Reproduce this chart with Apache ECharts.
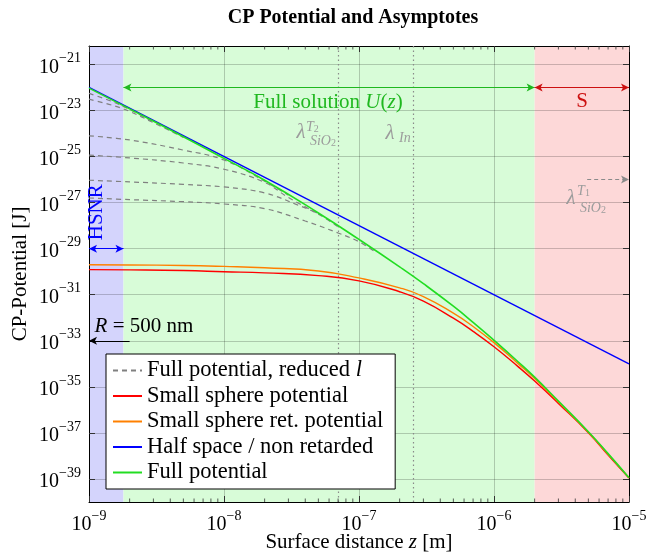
<!DOCTYPE html>
<html>
<head>
<meta charset="utf-8">
<script src="https://cdn.jsdelivr.net/npm/echarts@6/dist/echarts.min.js"></script>
<style>
  html, body { margin: 0; padding: 0; background: #fff; }
  #chart { width: 649px; height: 554px; }
</style>
</head>
<body>
<div id="chart"></div>
<script>
// distances z [m] where the curves were read
const zGrid = [1e-9, 2e-9, 5e-9, 1e-8, 2e-8, 5e-8, 1e-7, 2e-7, 3e-7, 5e-7, 7e-7,
               1e-6, 1.5e-6, 2e-6, 3e-6, 5e-6, 7e-6, 1e-5];
// log10 of the potential [J]
const fullPot = [-22.03, -22.93, -24.14, -25.08, -26.03, -27.45, -28.6, -29.79, -30.52, -31.5, -32.2,
                 -32.98, -33.9, -34.58, -35.62, -36.95, -37.9, -38.95];
const smallSphere = [-29.91, -29.92, -29.95, -30.0, -30.05, -30.17, -30.4, -30.87, -31.28, -32.02, -32.59,
                     -33.26, -34.11, -34.75, -35.72, -36.99, -37.96, -38.96];
const smallSphereRet = [-29.7, -29.71, -29.73, -29.77, -29.83, -29.97, -30.27, -30.7, -31.08, -31.8, -32.38,
                        -33.08, -33.98, -34.64, -35.66, -36.97, -37.93, -38.95];
// half space, non retarded (straight line, read at both ends)
const halfSpaceZ = [1e-9, 1e-5];
const halfSpace = [-22.0, -34.0];
// full potential with reduced l
const reducedZ = [
  [1e-9, 1.5e-9, 2e-9, 3e-9],
  [1e-9, 1.5e-9, 2e-9, 3e-9, 5e-9],
  [1e-9, 2e-9, 5e-9, 1e-8, 2e-8, 3e-8],
  [1e-9, 2e-9, 5e-9, 1e-8, 2e-8, 3e-8, 5e-8],
  [1e-9, 2e-9, 5e-9, 1e-8, 2e-8, 3.5e-8, 5e-8, 7e-8],
  [1e-9, 2e-9, 5e-9, 1e-8, 2e-8, 4e-8, 7e-8, 1e-7, 1.3e-7]
];
const reducedPot = [
  [-22.26, -22.62, -22.96, -23.49],
  [-22.51, -22.78, -23.04, -23.53, -24.17],
  [-24.1, -24.28, -24.72, -25.15, -26.07, -26.68],
  [-24.94, -25.06, -25.28, -25.55, -26.12, -26.78, -27.48],
  [-26.03, -26.1, -26.21, -26.32, -26.58, -27.1, -27.5, -28.05],
  [-26.8, -26.87, -26.96, -27.06, -27.26, -27.8, -28.32, -28.7, -29.12]
];

const xTickExp = [-9, -8, -7, -6, -5];
const yTickExp = [-39, -37, -35, -33, -31, -29, -27, -25, -23, -21];
const minorMult = [2, 3, 4, 5, 6, 7, 8, 9];
const regionEdges = [1e-9, 1.8e-9, 2e-6, 1e-5]; // HSNR | full solution | S
const lambdaZ = [7e-8, 2.5e-7];

const FONT = '"Liberation Serif", "DejaVu Serif", serif';
const REDUCED = 'Full potential, reduced l';
const lg = Math.log10;

function toPts(zs, us) {
  return zs.map((z, i) => [lg(z), us[i]]);
}

const minorX = [];
xTickExp.slice(0, -1).forEach(d => minorMult.forEach(m => minorX.push([lg(m) + d, -30])));

const tickLabel = {
  formatter: v => '{b|10}{s|\u2212' + Math.abs(v) + '}',
  rich: {
    b: { fontSize: 20, fontFamily: FONT, color: '#000', lineHeight: 26, verticalAlign: 'bottom' },
    s: { fontSize: 14, fontFamily: FONT, color: '#000', lineHeight: 15, verticalAlign: 'top' }
  }
};

const axisCommon = {
  type: 'value', z: 0,
  axisLine: { show: true, onZero: false, lineStyle: { color: '#000', width: 1 } },
  axisTick: { show: true, inside: true, length: 6, lineStyle: { color: '#333' } }
};

function txt(x, y, formatter, rich, rotate) {
  return {
    coord: [x, y],
    label: { show: true, position: 'inside', formatter: formatter, rich: rich, rotate: rotate || 0 }
  };
}

const GRAY = '#9c9c9c';
const lamRich = {
  l: { fontSize: 21, fontFamily: FONT, fontStyle: 'italic', color: GRAY },
  i: { fontSize: 14, fontFamily: FONT, fontStyle: 'italic', color: GRAY },
  d: { fontSize: 10, fontFamily: FONT, color: GRAY, verticalAlign: 'bottom', lineHeight: 11 }
};

const series = [];

// background regions
series.push({
  type: 'line', name: 'bg', data: [], silent: true,
  markArea: {
    silent: true, z: -1,
    data: [
      [{ xAxis: lg(regionEdges[0]), itemStyle: { color: '#d4d4fc' } }, { xAxis: lg(regionEdges[1]) }],
      [{ xAxis: lg(regionEdges[1]), itemStyle: { color: '#d8fcd8' } }, { xAxis: lg(regionEdges[2]) }],
      [{ xAxis: lg(regionEdges[2]), itemStyle: { color: '#fdd8d8' } }, { xAxis: lg(regionEdges[3]) }]
    ]
  }
});

// dotted wavelength markers
series.push({
  type: 'line', name: 'lam', data: [], silent: true,
  markLine: {
    silent: true, z: 1, symbol: 'none', label: { show: false },
    lineStyle: { color: '#8a8a8a', type: [1.5, 3], width: 1.2 },
    data: lambdaZ.map(z => ({ xAxis: lg(z) }))
  }
});

reducedZ.forEach((zs, k) => {
  series.push({
    type: 'line', name: REDUCED, data: toPts(zs, reducedPot[k]), symbol: 'none', smooth: 0.4,
    lineStyle: { color: '#808080', width: 1.2, type: [5, 4] }, itemStyle: { color: '#808080' }, z: 2
  });
});

[
  ['Small sphere potential', smallSphere, '#ff0000'],
  ['Small sphere ret. potential', smallSphereRet, '#ff8000']
].forEach(([name, vals, col]) => {
  series.push({
    type: 'line', name: name, data: toPts(zGrid, vals), symbol: 'none', smooth: 0.5,
    lineStyle: { color: col, width: 1.4 }, itemStyle: { color: col }, z: 3
  });
});

series.push({
  type: 'line', name: 'Half space / non retarded', data: toPts(halfSpaceZ, halfSpace), symbol: 'none',
  lineStyle: { color: '#0000ff', width: 1.4 }, itemStyle: { color: '#0000ff' }, z: 3
});

series.push({
  type: 'line', name: 'Full potential', data: toPts(zGrid, fullPot), symbol: 'none', smooth: 0.5,
  lineStyle: { color: '#22dd22', width: 1.6 }, itemStyle: { color: '#22dd22' }, z: 4
});

// arrows and annotation texts
series.push({
  type: 'line', name: 'annot', data: [], z: 5, silent: true,
  markLine: {
    silent: true, symbol: ['arrow', 'arrow'], symbolSize: [6, 8], label: { show: false },
    data: [
      [{ coord: [lg(regionEdges[1]), -22.0], lineStyle: { color: '#1fb81f', width: 1.2, type: 'solid' } },
       { coord: [lg(regionEdges[2]), -22.0] }],
      [{ coord: [lg(regionEdges[2]), -22.0], lineStyle: { color: '#cc1111', width: 1.2, type: 'solid' } },
       { coord: [lg(regionEdges[3]), -22.0] }],
      [{ coord: [lg(regionEdges[0]), -29.0], lineStyle: { color: '#0000ff', width: 1.2, type: 'solid' } },
       { coord: [lg(regionEdges[1]), -29.0] }],
      [{ coord: [lg(2.0e-9), -33.0], symbol: 'none', lineStyle: { color: '#000', width: 1.2, type: 'solid' } },
       { coord: [lg(1e-9), -33.0], symbol: 'arrow' }],
      [{ coord: [lg(4.9e-6), -26.0], symbol: 'none', lineStyle: { color: '#8a8a8a', width: 1, type: [4, 3] } },
       { coord: [lg(1e-5), -26.0], symbol: 'arrow' }]
    ]
  },
  markPoint: {
    silent: true, symbol: 'circle', symbolSize: 1, itemStyle: { color: 'rgba(0,0,0,0)' },
    data: [
      txt(-7.23, -22.66, '{g|Full solution }{gi|U}{g|(}{gi|z}{g|)}', {
        g: { fontSize: 21, fontFamily: FONT, color: '#1fb81f' },
        gi: { fontSize: 21, fontFamily: FONT, fontStyle: 'italic', color: '#1fb81f' }
      }),
      txt(-5.348, -22.62, '{r|S}', { r: { fontSize: 21, fontFamily: FONT, color: '#cc1111' } }),
      txt(-8.941, -27.42, '{h|HSNR}', { h: { fontSize: 21, fontFamily: FONT, color: '#0000ff' } }, 90),
      txt(-8.593, -32.4, '{i|R}{n| = 500 nm}', {
        i: { fontSize: 21, fontFamily: FONT, fontStyle: 'italic', color: '#000' },
        n: { fontSize: 21, fontFamily: FONT, color: '#000' }
      }),
      txt(-7.43, -23.94, '{l|λ}', lamRich),
      txt(-7.345, -23.74, '{i|T}{d|2}', lamRich),
      txt(-7.267, -24.33, '{i|SiO}{d|2}', lamRich),
      txt(-6.77, -23.99, '{l|λ}', lamRich),
      txt(-6.66, -24.2, '{i|In}', lamRich),
      txt(-5.43, -26.81, '{l|λ}', lamRich),
      txt(-5.337, -26.52, '{i|T}{d|1}', lamRich),
      txt(-5.267, -27.24, '{i|SiO}{d|2}', lamRich)
    ]
  }
});

// minor ticks on the log x axis (top and bottom)
series.push({
  type: 'custom', name: 'minor', data: minorX, silent: true, z: 6,
  renderItem: (params, api) => {
    const x = api.coord([api.value(0), api.value(1)])[0];
    const cs = params.coordSys;
    const st = { stroke: '#333', lineWidth: 0.8 };
    return {
      type: 'group', children: [
        { type: 'line', shape: { x1: x, y1: cs.y + cs.height, x2: x, y2: cs.y + cs.height - 3.5 }, style: st },
        { type: 'line', shape: { x1: x, y1: cs.y, x2: x, y2: cs.y + 3.5 }, style: st }
      ]
    };
  }
});

const chart = echarts.init(document.getElementById('chart'));
chart.setOption({
  animation: false,
  backgroundColor: '#fff',
  title: {
    text: 'CP Potential and Asymptotes',
    left: 353, top: 8, padding: 0, textAlign: 'center',
    textStyle: { fontFamily: FONT, fontSize: 20, fontWeight: 'bold', color: '#000' }
  },
  grid: { left: 89, top: 46, right: 20, bottom: 52, outerBoundsMode: 'none', containLabel: false },
  legend: {
    orient: 'vertical', left: 106, top: 354,
    data: [REDUCED, 'Small sphere potential', 'Small sphere ret. potential', 'Half space / non retarded', 'Full potential'],
    backgroundColor: '#fff', borderColor: '#000', borderWidth: 1, borderRadius: 0,
    padding: [5, 12, 5, 6], itemWidth: 29, itemHeight: 14, itemGap: 2.5,
    itemStyle: { opacity: 0 },
    formatter: name => name === REDUCED ? 'Full potential, reduced {i|l}' : name,
    textStyle: {
      fontFamily: FONT, fontSize: 22.5, color: '#000', lineHeight: 20,
      rich: { i: { fontFamily: FONT, fontSize: 22.5, fontStyle: 'italic', color: '#000', lineHeight: 20 } }
    }
  },
  xAxis: [
    Object.assign({}, axisCommon, {
      min: -9, max: -5, interval: 1, position: 'bottom',
      name: 'Surface distance {i|z} [m]', nameLocation: 'middle', nameGap: 30, nameMoveOverlap: false,
      nameTextStyle: {
        fontFamily: FONT, fontSize: 21, color: '#000',
        rich: { i: { fontFamily: FONT, fontSize: 21, fontStyle: 'italic', color: '#000' } }
      },
      axisLabel: Object.assign({ margin: 7 }, tickLabel),
      splitLine: { show: true, lineStyle: { color: 'rgba(0,0,0,0.2)', width: 1 } }
    }),
    Object.assign({}, axisCommon, {
      min: -9, max: -5, interval: 1, position: 'top',
      axisLabel: { show: false }, splitLine: { show: false }
    })
  ],
  yAxis: [
    Object.assign({}, axisCommon, {
      min: -40, max: -20.2, interval: 1, position: 'left',
      name: 'CP-Potential [J]', nameLocation: 'middle', nameGap: 58, nameMoveOverlap: false,
      nameTextStyle: { fontFamily: FONT, fontSize: 21, color: '#000' },
      axisTick: Object.assign({}, axisCommon.axisTick, { customValues: yTickExp }),
      axisLabel: Object.assign({ margin: 8, customValues: yTickExp }, tickLabel),
      splitLine: { show: true, lineStyle: { color: 'rgba(0,0,0,0.2)', width: 1 } }
    }),
    Object.assign({}, axisCommon, {
      min: -40, max: -20.2, interval: 1, position: 'right',
      axisTick: Object.assign({}, axisCommon.axisTick, { customValues: yTickExp }),
      axisLabel: { show: false }, splitLine: { show: false }
    })
  ],
  series: series
});
</script>
</body>
</html>
